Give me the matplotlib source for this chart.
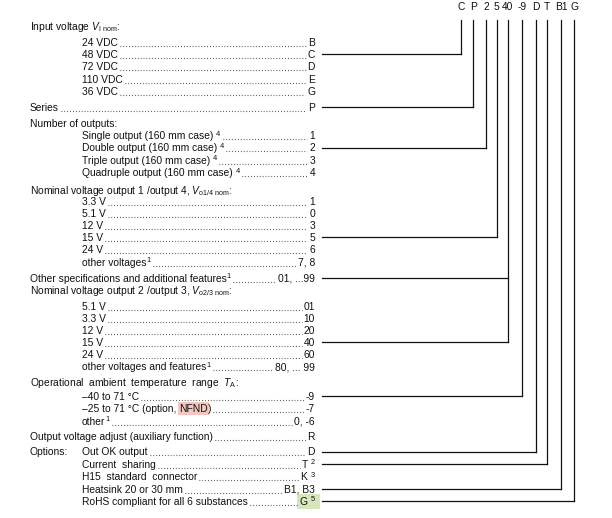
import re
import matplotlib
matplotlib.use("Agg")
import matplotlib.pyplot as plt
from matplotlib.patches import Rectangle

plt.rcParams["font.family"] = ["Liberation Sans", "DejaVu Sans"]
plt.rcParams["mathtext.fontset"] = "custom"
plt.rcParams["mathtext.rm"] = "Liberation Sans"
plt.rcParams["mathtext.it"] = "Liberation Sans:italic"
plt.rcParams["mathtext.bf"] = "Liberation Sans:bold"

# ordering code shown on top, one column per code position
code_parts = ["C", "P", "2", "5", "40", "-9", "D", "T", "B1", "G"]

# rows: indent level, label, code letter(s), code part the row is linked to
# markup: [..] = highlighted, ^{..} = superscript
levels = [0, 1, 1, 1, 1, 1, 0, 0, 1, 1, 1, 1, 0, 1, 1, 1, 1, 1, 1, 0,
          0, 1, 1, 1, 1, 1, 1, 0, 1, 1, 1, 0, 1, 1, 1, 1, 1]
labels = [
    r"Input voltage $V_{\mathrm{I\ nom}}$:",
    "24 VDC", "48 VDC", "72 VDC", "110 VDC", "36 VDC",
    "Series",
    "Number of outputs:",
    "Single output (160 mm case) ^{4}",
    "Double output (160 mm case) ^{4}",
    "Triple output (160 mm case) ^{4}",
    "Quadruple output (160 mm case) ^{4}",
    r"Nominal voltage output 1 /output 4, $V_{\mathrm{o1/4\ nom}}$:",
    "3.3 V", "5.1 V", "12 V", "15 V", "24 V",
    "other voltages^{1}",
    "Other specifications and additional features^{1}",
    r"Nominal voltage output 2 /output 3, $V_{\mathrm{o2/3\ nom}}$:",
    "5.1 V", "3.3 V", "12 V", "15 V", "24 V",
    "other voltages and features^{1}",
    r"Operational  ambient  temperature  range  $T_{\mathrm{A}}$:",
    "–40 to 71 °C",
    "–25 to 71 °C (option, [NFND])",
    "other^{1}",
    "Output voltage adjust (auxiliary function)",
    "Out OK output",
    "Current  sharing",
    "H15  standard  connector",
    "Heatsink 20 or 30 mm",
    "RoHS compliant for all 6 substances",
]
codes = [None, "B", "C", "D", "E", "G", "P", None, "1", "2", "3", "4", None,
         "1", "0", "3", "5", "6", "7, 8", "01, ...99", None,
         "01", "10", "20", "40", "60", "80, ... 99", None,
         "-9", "-7", "0, -6", "R", "D", "T ^{2}", "K ^{3}", "B1, B3", "[G ^{5}]"]
links = [None, None, "C", None, None, None, "P", None, None, "2", None, None,
         None, None, None, None, "5", None, None, "40", None,
         None, None, None, "40", None, None, None,
         "-9", None, None, None, "D", "T", None, "B1", "G"]

# layout (pixel positions)
row_y = [26.5, 42.5, 54, 66.5, 79, 91, 107, 123.5, 135.7, 147.5, 160, 172.5,
         190, 201.5, 213, 225.5, 237, 249.5, 262, 278, 290.5,
         306.5, 318.5, 330, 342, 354.5, 366.5, 382, 396, 408.5, 421, 436.5,
         451.5, 464, 476.5, 489, 501]
col_x = [461, 473.3, 486, 496.7, 507.7, 522.3, 535.7, 547.3, 561.3, 574.3]
indent_x = [30, 82]
code_right = 315
line_start = 322
line_top = 20
FS = 7.4
FS_SUP = 5.4

fig = plt.figure(figsize=(6.12, 5.18), dpi=100)
ax = fig.add_axes([0, 0, 1, 1])
ax.set_xlim(0, 612)
ax.set_ylim(518, 0)
ax.axis("off")
renderer = fig.canvas.get_renderer()
inv = ax.transData.inverted()


def extent(t):
    bb = t.get_window_extent(renderer)
    (x0, _), (x1, _) = inv.transform([[bb.x0, bb.y0], [bb.x1, bb.y1]])
    return x0, x1


def draw_rich(x, y, s, ha="left", hl=None):
    """draw text with [highlight] and ^{sup} markup, return (x0, x1)
    hl = (color, pad_left, pad_right, half_height) for the highlight box"""
    items = []
    x_start = x
    in_hl = False
    hl_span = []
    for part in re.split(r"(\[|\]|\^\{[^}]*\})", s):
        if part == "[":
            in_hl = True
            hl_span.append(x)
            continue
        if part == "]":
            in_hl = False
            hl_span.append(x)
            continue
        if not part:
            continue
        if part.startswith("^{"):
            t = ax.text(x, y - 3.3, part[2:-1], fontsize=FS_SUP, va="baseline",
                        ha="left", color="#111111", zorder=3)
        else:
            t = ax.text(x, y, part, fontsize=FS, va="baseline", ha="left",
                        color="#111111", zorder=3)
        items.append(t)
        x = extent(t)[1]
    shift = 0
    if ha == "right":
        shift = x - x_start
        for t in items:
            t.set_x(t.get_position()[0] - shift)
    if hl_span and hl:
        color, pl, pr, hh = hl
        a, b = hl_span[0] - shift, hl_span[1] - shift
        ax.add_patch(Rectangle((a - pl, y - 3.6 - hh), (b - a) + pl + pr, 2 * hh,
                               fc=color, ec="none", zorder=1))
    return x_start - shift, x - shift


for lvl, lab, code, y in zip(levels, labels, codes, row_y):
    base = y + 3.6
    x_end = draw_rich(indent_x[lvl], base, lab, hl=("#f4c7c1", 1.5, 1.5, 6.5))[1]
    if code is None:
        continue
    c0 = draw_rich(code_right, base, code, ha="right", hl=("#d7e7bd", 3, 5, 7.5))[0]
    ax.plot([x_end + 2, c0 - 2], [base, base], color="#333333", lw=0.8,
            dashes=(0.7, 1.9), dash_capstyle="butt")

ax.text(indent_x[0], row_y[labels.index("Out OK output")] + 3.6, "Options:",
        fontsize=FS, va="baseline", ha="left", color="#111111")

# code header and connector lines
for part, x in zip(code_parts, col_x):
    ax.text(x, 7.5, part, fontsize=FS, ha="center", va="center", color="#111111")
    ys = [row_y[i] for i, l in enumerate(links) if l == part]
    ax.plot([x, x], [line_top, max(ys)], color="#111111", lw=0.9)
    for yy in ys:
        ax.plot([line_start, x], [yy, yy], color="#111111", lw=0.9)

fig.savefig("out.png", dpi=100)
